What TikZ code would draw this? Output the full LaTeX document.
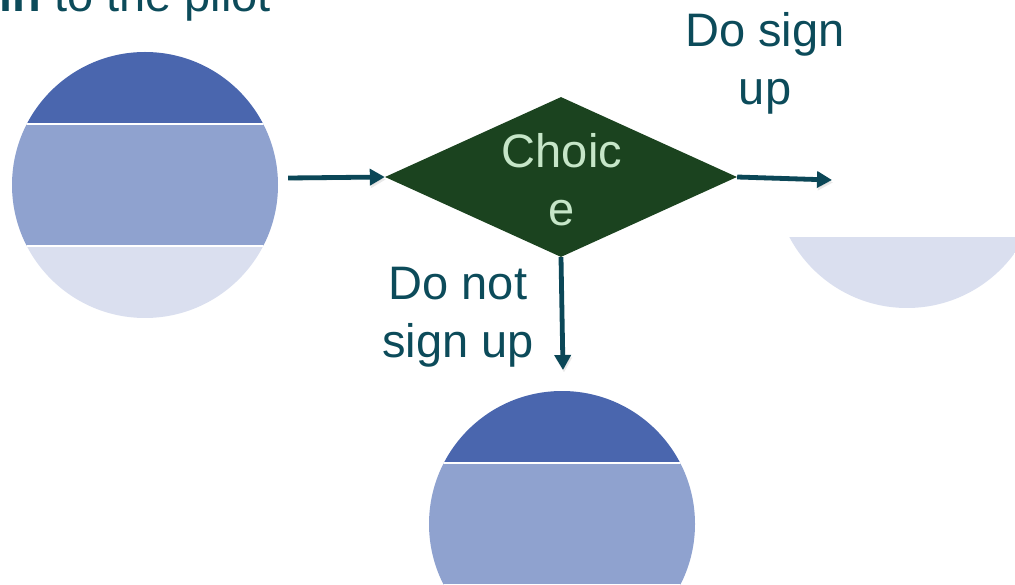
\documentclass[tikz,border=0pt]{standalone}
\usepackage{fontspec}
\setmainfont{Liberation Sans}
\usetikzlibrary{arrows.meta,calc,shapes.geometric}

\definecolor{inkteal}{HTML}{0C4B5A}
\definecolor{arrowteal}{HTML}{0B4757}
\definecolor{choicegreen}{HTML}{1B431F}
\definecolor{choicetext}{HTML}{C6E6C8}
\definecolor{bandtop}{HTML}{4A66AE}
\definecolor{bandmid}{HTML}{8FA2CF}
\definecolor{bandlow}{HTML}{DADFEF}

\tikzset{
  bigtext/.style={font=\fontsize{47}{58}\selectfont, text=inkteal, inner sep=0pt, align=center},
  decision/.style={diamond, fill=choicegreen, minimum width=352pt, minimum height=160pt,
    inner sep=0pt, aspect=2.2},
  choicelabel/.style={font=\fontsize{47}{58}\selectfont, text=choicetext, inner sep=0pt, align=center},
  flow/.style={draw=arrowteal, line width=4.8pt, -{Triangle[length=15pt,width=16pt]},
    preaction={draw=black!25, opacity=0.35, transform canvas={shift={(1pt,-2.5pt)}}}},
  % a disc split into three horizontal bands with thin white seams
  banded/.style={circle, minimum size=266pt, inner sep=0pt, path picture={
    \coordinate (pc) at (path picture bounding box.center);
    \fill[bandtop] ($(pc)+(-140,-140)$) rectangle ($(pc)+(140,-61)$);
    \fill[bandmid] ($(pc)+(-140,-61)$) rectangle ($(pc)+(140,61)$);
    \fill[bandlow] ($(pc)+(-140,61)$) rectangle ($(pc)+(140,140)$);
    \draw[white, line width=2pt] ($(pc)+(-140,-61)$) -- ($(pc)+(140,-61)$);
    \draw[white, line width=2pt] ($(pc)+(-140,61)$) -- ($(pc)+(140,61)$);
  }},
  % only the lowest band of a disc
  lowband/.style={circle, minimum size=266pt, inner sep=0pt, path picture={
    \coordinate (pc) at (path picture bounding box.center);
    \fill[bandlow] ($(pc)+(-140,62)$) rectangle ($(pc)+(140,140)$);
  }},
}

\begin{document}
\begin{tikzpicture}[x=1pt, y=-1pt]
  \useasboundingbox (0,0) rectangle (1015,585);
  \clip (0,0) rectangle (1015,585);

  % heading line running off the top edge
  \node[bigtext, anchor=base west] (intro) at (-1,12) {\textbf{in} to the pilot};

  % discs
  \node[banded] (left) at (145,185) {};
  \node[banded] (below) at (562,524) {};
  \node[lowband] (right) at (907,175) {};

  % decision
  \node[decision] (choice) at (561,177) {};
  \node[choicelabel] (choicetxt) at (562,180) {Choic\\e};

  % branch labels
  \node[bigtext] (yes) at (765,63) {Do sign\\up};
  \node[bigtext] (no) at (458,317) {Do not\\sign up};

  % connectors
  \coordinate (yesend) at (832,180);
  \coordinate (noend) at (563,370);
  \draw[flow] ([shift={(10,-7)}]left.east) -- (choice.west);
  \draw[flow] (choice.east) -- (yesend);
  \draw[flow] (choice.south) -- (noend);
\end{tikzpicture}
\end{document}
